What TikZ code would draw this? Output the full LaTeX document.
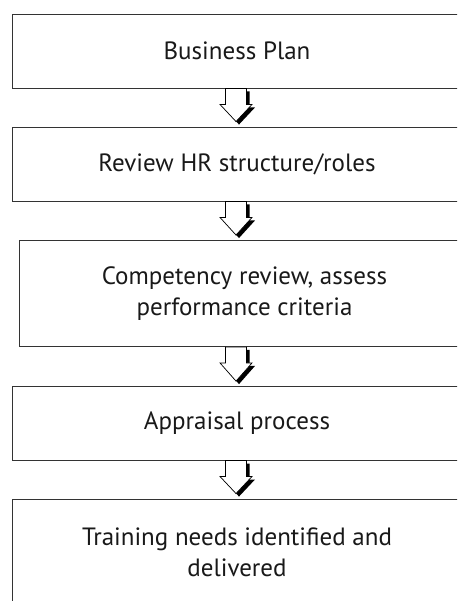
\documentclass[tikz,border=0pt]{standalone}
\usepackage{fontspec}
\setmainfont{PT Sans}
\usetikzlibrary{calc}

% Down arrow with a black drop shadow, from the bottom of one stage to the top of the next
\newcommand\stagearrow[2]{%
  \path (#1.south -| axis) coordinate (at-top) (#2.north -| axis) coordinate (at-bot);
  \fill[black]
    ($(at-top)+(-7.5,3)$) -- ($(at-top)+(-7.5,19)$) -- ($(at-top)+(-13,19)$) --
    ($(at-bot)+(3,-2)$) -- ($(at-top)+(19,19)$) -- ($(at-top)+(13.5,19)$) --
    ($(at-top)+(13.5,3)$) -- cycle;
  \filldraw[fill=white, draw=black, line width=0.7pt, line join=miter]
    ($(at-top)+(-10.5,0)$) -- ($(at-top)+(-10.5,16)$) -- ($(at-top)+(-16,16)$) --
    ($(at-bot)+(0,-5)$) -- ($(at-top)+(16,16)$) -- ($(at-top)+(10.5,16)$) --
    ($(at-top)+(10.5,0)$) -- cycle;
}

\begin{document}
\begin{tikzpicture}[x=1pt, y=-1pt,
  stagebox/.style={draw=black!80, line width=0.9pt, rectangle, inner sep=0pt,
    minimum width=450pt, align=center, text=black!90,
    font=\fontsize{25}{31}\selectfont},
]
\useasboundingbox (0,0) rectangle (457,601);
\fill[white] (0,0) rectangle (457,601);
\coordinate (axis) at (236,0);
\begin{scope}
  \clip (0,0) rectangle (457,601);
  \node[stagebox, minimum height=74pt] (plan) at (237,51) {Business Plan};
  \node[stagebox, minimum height=74pt] (roles) at (237,164) {Review HR structure/roles};
  \node[stagebox, minimum height=106pt, minimum width=451pt] (comp) at (244.5,293.5)
    {Competency review, assess\\performance criteria};
  \node[stagebox, minimum height=73.5pt] (appr) at (237,423.3) {Appraisal process};
  \node[stagebox, minimum height=106pt] (train) at (237,552)
    {Training needs identified and\\delivered};

  \stagearrow{plan}{roles}
  \stagearrow{roles}{comp}
  \stagearrow{comp}{appr}
  \stagearrow{appr}{train}
\end{scope}
\end{tikzpicture}
\end{document}
